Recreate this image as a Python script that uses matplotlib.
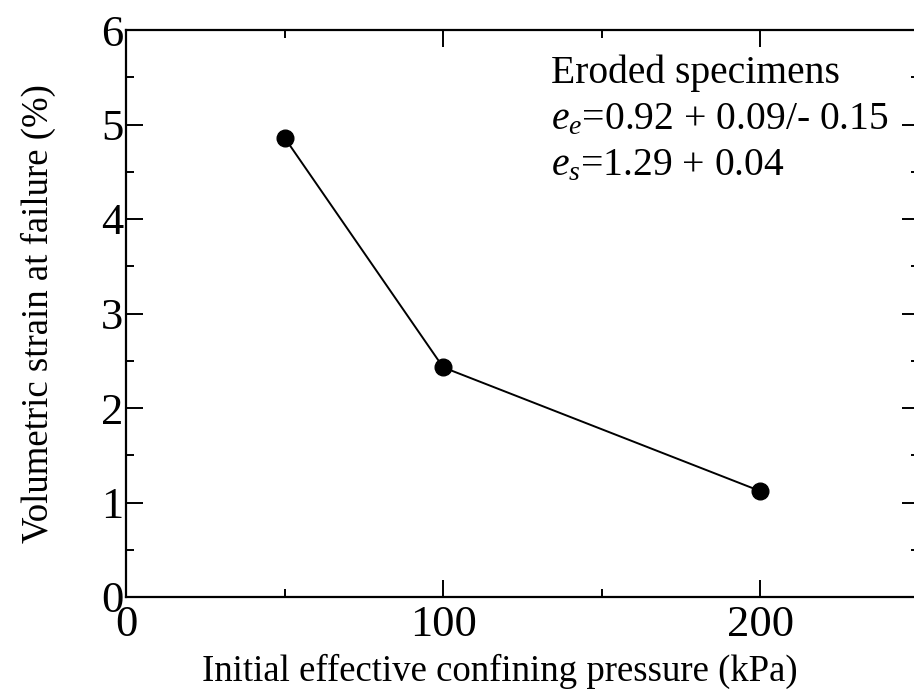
import matplotlib

matplotlib.use("Agg")
import matplotlib.pyplot as plt
from matplotlib.ticker import MultipleLocator

# Data
PRESSURE_KPA = [50, 100, 200]
VOLUMETRIC_STRAIN = [4.86, 2.43, 1.12]

X_LABEL = "Initial effective confining pressure (kPa)"
Y_LABEL = "Volumetric strain at failure (%)"
NOTE_LINES = [
    "Eroded specimens",
    r"$e_e$=0.92 + 0.09/- 0.15",
    r"$e_s$=1.29 + 0.04",
]

plt.rcParams["font.family"] = "Liberation Serif"
plt.rcParams["mathtext.fontset"] = "custom"
plt.rcParams["mathtext.it"] = "Liberation Serif:italic"
plt.rcParams["mathtext.rm"] = "Liberation Serif"

fig = plt.figure(figsize=(9.14, 6.97), dpi=100)
ax = fig.add_axes([126 / 914, 1 - 597 / 697, 793 / 914, 567 / 697])

ax.plot(
    PRESSURE_KPA,
    VOLUMETRIC_STRAIN,
    color="black",
    linewidth=1.4,
    marker="o",
    markersize=12,
)

ax.set_xlim(0, 250)
ax.set_ylim(0, 6)
ax.xaxis.set_major_locator(MultipleLocator(100))
ax.xaxis.set_minor_locator(MultipleLocator(50))
ax.yaxis.set_major_locator(MultipleLocator(1))
ax.yaxis.set_minor_locator(MultipleLocator(0.5))

for spine in ax.spines.values():
    spine.set_linewidth(1.6)
ax.tick_params(
    which="both", direction="in", top=True, right=True, width=1.4, labelsize=32
)
ax.tick_params(which="major", length=12)
ax.tick_params(which="minor", length=6)
ax.tick_params(axis="x", pad=6)
ax.tick_params(axis="y", pad=2)

ax.set_xlabel(X_LABEL, fontsize=26.5)
ax.xaxis.set_label_coords(0.4716, -0.132, transform=ax.transAxes)
ax.xaxis.label.set_va("center")
ax.set_ylabel(Y_LABEL, fontsize=26.5, labelpad=32)

# note block, baselines roughly 46 px apart
for i, line in enumerate(NOTE_LINES):
    ax.text(
        0.536,
        0.9065 - i * 0.081,
        line,
        transform=ax.transAxes,
        fontsize=28.5,
        va="baseline",
        ha="left",
    )

fig.savefig("out.png", dpi=100)
